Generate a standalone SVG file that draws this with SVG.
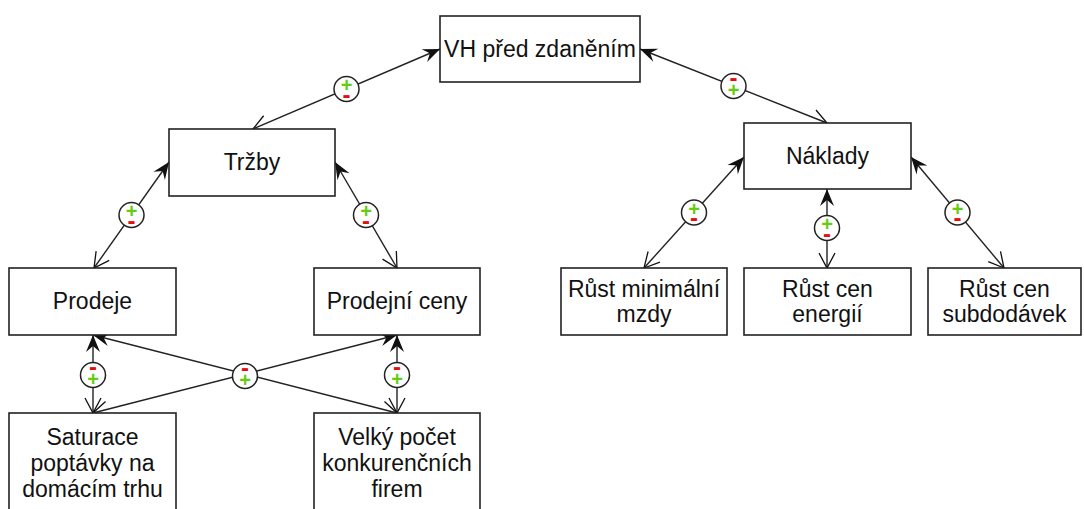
<svg xmlns="http://www.w3.org/2000/svg" width="1084" height="509" viewBox="0 0 1084 509">
<style>
.box{fill:#fff;stroke:#222;stroke-width:1.6}
.t{font-family:"Liberation Sans",Arial,sans-serif;font-size:23px;fill:#111;text-anchor:middle}
.c{fill:none;stroke:#222;stroke-width:1.4}
.lc{fill:#fff;stroke:#222;stroke-width:1.5}
.p{font-family:"Liberation Sans",Arial,sans-serif;font-weight:bold;font-size:20px;fill:#66cc11;text-anchor:middle}
.m{font-family:"Liberation Sans",Arial,sans-serif;font-weight:bold;font-size:24px;fill:#e01010;text-anchor:middle}
</style>
<defs>
<marker id="thick" markerUnits="userSpaceOnUse" markerWidth="24" markerHeight="24" viewBox="-20 -12 24 24" refX="0" refY="0" orient="auto">
<path d="M0,0 L-17,-7 L-11,0 L-17,7 Z" fill="#111"/>
</marker>
<marker id="open" markerUnits="userSpaceOnUse" markerWidth="24" markerHeight="24" viewBox="-20 -12 24 24" refX="0" refY="0" orient="auto-start-reverse">
<path d="M-15,-8 L0,0 L-15,8" fill="none" stroke="#111" stroke-width="1.3"/>
</marker>
</defs>
<rect width="1084" height="509" fill="#fff"/>

<g id="connectors">
<path class="c" d="M253,129 L440,49" marker-start="url(#open)" marker-end="url(#thick)"/>
<path class="c" d="M827,123 L640,49" marker-start="url(#open)" marker-end="url(#thick)"/>
<path class="c" d="M94,268 L169,162" marker-start="url(#open)" marker-end="url(#thick)"/>
<path class="c" d="M397,268 L335,162" marker-start="url(#open)" marker-end="url(#thick)"/>
<path class="c" d="M644,268 L744,157" marker-start="url(#open)" marker-end="url(#thick)"/>
<path class="c" d="M827,268 L827,189" marker-start="url(#open)" marker-end="url(#thick)"/>
<path class="c" d="M1004,268 L911,157" marker-start="url(#open)" marker-end="url(#thick)"/>
<path class="c" d="M93,413 L93,335" marker-start="url(#open)" marker-end="url(#thick)"/>
<path class="c" d="M397,413 L397,335" marker-start="url(#open)" marker-end="url(#thick)"/>
<path class="c" d="M93,413 L397,335" marker-start="url(#open)" marker-end="url(#thick)"/>
<path class="c" d="M397,413 L93,335" marker-start="url(#open)" marker-end="url(#thick)"/>

<g id="lbl1" transform="translate(346.5,89)"><circle class="lc" r="12.5"/><text class="p" y="3">+</text><text class="m" y="13.5">-</text></g>
<g id="lbl2" transform="translate(733.5,86)"><circle class="lc" r="12.5"/><text class="m" y="0">-</text><text class="p" y="11">+</text></g>
<g id="lbl3" transform="translate(131.5,215)"><circle class="lc" r="12.5"/><text class="p" y="3">+</text><text class="m" y="13.5">-</text></g>
<g id="lbl4" transform="translate(366,215)"><circle class="lc" r="12.5"/><text class="p" y="3">+</text><text class="m" y="13.5">-</text></g>
<g id="lbl5" transform="translate(694,212.5)"><circle class="lc" r="12.5"/><text class="p" y="3">+</text><text class="m" y="13.5">-</text></g>
<g id="lbl6" transform="translate(827,228)"><circle class="lc" r="12.5"/><text class="p" y="3">+</text><text class="m" y="13.5">-</text></g>
<g id="lbl7" transform="translate(957.5,212.5)"><circle class="lc" r="12.5"/><text class="p" y="3">+</text><text class="m" y="13.5">-</text></g>
<g id="lbl8" transform="translate(93,375)"><circle class="lc" r="12.5"/><text class="m" y="0">-</text><text class="p" y="11">+</text></g>
<g id="lbl9" transform="translate(397,375)"><circle class="lc" r="12.5"/><text class="m" y="0">-</text><text class="p" y="11">+</text></g>
<g id="lbl10" transform="translate(245,376)"><circle class="lc" r="12.5"/><text class="m" y="0">-</text><text class="p" y="11">+</text></g>
</g>

<g id="n-vh"><rect class="box" x="440" y="16" width="200" height="66"/><text class="t" x="540" y="57">VH před zdaněním</text></g>
<g id="n-trzby"><rect class="box" x="169" y="129" width="166" height="67"/><text class="t" x="252" y="170">Tržby</text></g>
<g id="n-prodeje"><rect class="box" x="9" y="268" width="167" height="67"/><text class="t" x="92.5" y="309">Prodeje</text></g>
<g id="n-ceny"><rect class="box" x="314" y="268" width="166" height="67"/><text class="t" x="397" y="309">Prodejní ceny</text></g>
<g id="n-naklady"><rect class="box" x="744" y="123" width="167" height="66"/><text class="t" x="827.5" y="164">Náklady</text></g>
<g id="n-mzdy"><rect class="box" x="561" y="268" width="166" height="67"/><text class="t" x="644" y="296.5">Růst minimální</text><text class="t" x="644" y="321.5">mzdy</text></g>
<g id="n-energie"><rect class="box" x="744" y="268" width="167" height="67"/><text class="t" x="827.5" y="296.5">Růst cen</text><text class="t" x="827.5" y="321.5">energií</text></g>
<g id="n-subdodavky"><rect class="box" x="928" y="268" width="153" height="67"/><text class="t" x="1004.5" y="296.5">Růst cen</text><text class="t" x="1004.5" y="321.5">subdodávek</text></g>
<g id="n-saturace"><rect class="box" x="9" y="413" width="167" height="110"/><text class="t" x="92.5" y="445">Saturace</text><text class="t" x="92.5" y="471">poptávky na</text><text class="t" x="92.5" y="497">domácím trhu</text></g>
<g id="n-konkurence"><rect class="box" x="314" y="413" width="166" height="110"/><text class="t" x="397" y="445">Velký počet</text><text class="t" x="397" y="471">konkurenčních</text><text class="t" x="397" y="497">firem</text></g>
</svg>
